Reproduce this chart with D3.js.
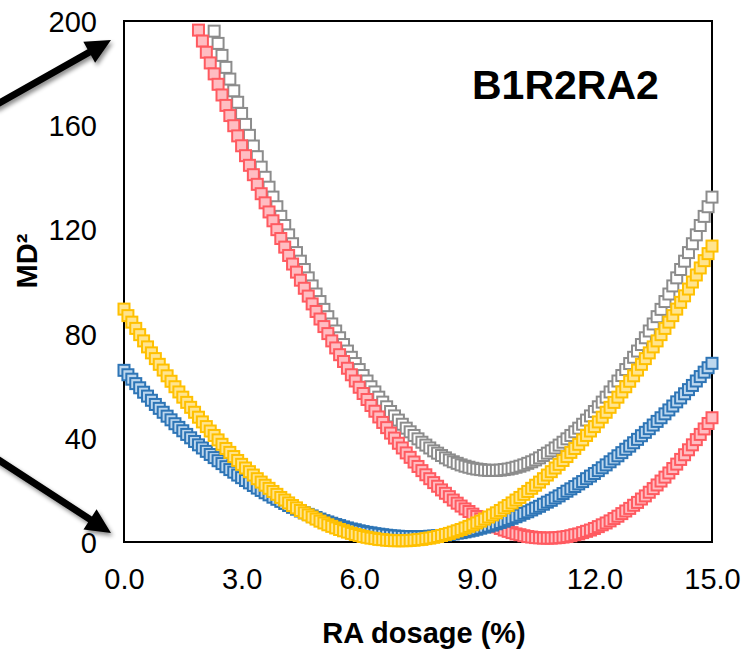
<!DOCTYPE html>
<html>
<head>
<meta charset="utf-8">
<script src="https://cdn.jsdelivr.net/npm/d3@7"></script>
<style>
body { margin: 0; background: #fff; }
svg { display: block; }
text { font-family: "Liberation Sans", Arial, sans-serif; fill: #000; }
</style>
</head>
<body>
<div id="chart"></div>
<script>
var WIDTH = 744
var HEIGHT = 652

// RA dosage (%) steps
var dosage = [
  0.0,0.1,0.2,0.3,0.4,0.5,0.6,0.7,0.8,0.9,
  1.0,1.1,1.2,1.3,1.4,1.5,1.6,1.7,1.8,1.9,
  2.0,2.1,2.2,2.3,2.4,2.5,2.6,2.7,2.8,2.9,
  3.0,3.1,3.2,3.3,3.4,3.5,3.6,3.7,3.8,3.9,
  4.0,4.1,4.2,4.3,4.4,4.5,4.6,4.7,4.8,4.9,
  5.0,5.1,5.2,5.3,5.4,5.5,5.6,5.7,5.8,5.9,
  6.0,6.1,6.2,6.3,6.4,6.5,6.6,6.7,6.8,6.9,
  7.0,7.1,7.2,7.3,7.4,7.5,7.6,7.7,7.8,7.9,
  8.0,8.1,8.2,8.3,8.4,8.5,8.6,8.7,8.8,8.9,
  9.0,9.1,9.2,9.3,9.4,9.5,9.6,9.7,9.8,9.9,
  10.0,10.1,10.2,10.3,10.4,10.5,10.6,10.7,10.8,10.9,
  11.0,11.1,11.2,11.3,11.4,11.5,11.6,11.7,11.8,11.9,
  12.0,12.1,12.2,12.3,12.4,12.5,12.6,12.7,12.8,12.9,
  13.0,13.1,13.2,13.3,13.4,13.5,13.6,13.7,13.8,13.9,
  14.0,14.1,14.2,14.3,14.4,14.5,14.6,14.7,14.8,14.9,
  15.0
]

// MD2 values, one per dosage step
var mdGray = [
  323.1,316.8,310.6,304.5,298.4,292.5,286.5,280.7,274.9,269.2,
  263.5,257.9,252.4,247.0,241.6,236.3,231.0,225.8,220.7,215.7,
  210.7,205.8,200.9,196.1,191.4,186.8,182.2,177.7,173.2,168.8,
  164.5,160.3,156.1,152.0,147.9,143.9,140.0,136.2,132.4,128.7,
  125.0,121.5,117.9,114.5,111.1,107.8,104.6,101.4,98.3,95.2,
  92.3,89.3,86.5,83.7,81.0,78.4,75.8,73.3,70.9,68.5,
  66.2,63.9,61.8,59.6,57.6,55.6,53.7,51.9,50.1,48.4,
  46.8,45.2,43.7,42.3,40.9,39.6,38.3,37.2,36.1,35.0,
  34.1,33.2,32.3,31.5,30.8,30.2,29.6,29.1,28.7,28.3,
  28.0,27.8,27.6,27.5,27.5,27.5,27.6,27.8,28.0,28.3,
  28.7,29.1,29.6,30.2,30.8,31.5,32.3,33.2,34.1,35.0,
  36.1,37.2,38.3,39.6,40.9,42.3,43.7,45.2,46.8,48.4,
  50.1,51.9,53.7,55.6,57.6,59.6,61.8,63.9,66.2,68.5,
  70.9,73.3,75.8,78.4,81.0,83.7,86.5,89.3,92.3,95.2,
  98.3,101.4,104.6,107.8,111.1,114.5,117.9,121.5,125.0,128.7,
  132.4
]
var mdRed = [
  286.0,280.9,275.9,270.8,265.9,260.9,256.0,251.2,246.4,241.6,
  236.9,232.3,227.6,223.1,218.5,214.0,209.6,205.2,200.8,196.5,
  192.3,188.0,183.9,179.7,175.7,171.6,167.6,163.7,159.8,155.9,
  152.1,148.3,144.6,141.0,137.3,133.7,130.2,126.7,123.3,119.9,
  116.5,113.2,110.0,106.7,103.6,100.5,97.4,94.4,91.4,88.5,
  85.6,82.7,80.0,77.2,74.5,71.9,69.3,66.7,64.2,61.8,
  59.4,57.0,54.7,52.4,50.2,48.0,45.9,43.9,41.8,39.9,
  37.9,36.1,34.2,32.5,30.7,29.0,27.4,25.8,24.3,22.8,
  21.4,20.0,18.7,17.4,16.1,14.9,13.8,12.7,11.7,10.7,
  9.8,8.9,8.0,7.2,6.5,5.8,5.2,4.6,4.1,3.6,
  3.1,2.8,2.4,2.1,1.9,1.7,1.6,1.5,1.5,1.5,
  1.6,1.7,1.9,2.1,2.4,2.8,3.1,3.6,4.1,4.6,
  5.2,5.9,6.6,7.3,8.1,9.0,9.9,10.9,11.9,12.9,
  14.1,15.2,16.5,17.7,19.1,20.5,21.9,23.4,24.9,26.5,
  28.2,29.9,31.7,33.5,35.4,37.3,39.3,41.3,43.4,45.5,
  47.7
]
var mdBlue = [
  65.9,64.2,62.5,60.8,59.2,57.5,56.0,54.4,52.8,51.3,
  49.8,48.3,46.9,45.4,44.0,42.7,41.3,40.0,38.6,37.3,
  36.1,34.8,33.6,32.4,31.2,30.1,28.9,27.8,26.8,25.7,
  24.7,23.6,22.7,21.7,20.7,19.8,18.9,18.1,17.2,16.4,
  15.6,14.8,14.0,13.3,12.6,11.9,11.2,10.6,10.0,9.4,
  8.8,8.2,7.7,7.2,6.7,6.3,5.8,5.4,5.0,4.7,
  4.3,4.0,3.7,3.5,3.2,3.0,2.8,2.6,2.4,2.3,
  2.2,2.1,2.1,2.0,2.0,2.0,2.0,2.1,2.2,2.3,
  2.4,2.5,2.7,2.9,3.1,3.4,3.6,3.9,4.2,4.5,
  4.9,5.3,5.7,6.1,6.5,7.0,7.5,8.0,8.6,9.1,
  9.7,10.3,11.0,11.6,12.3,13.0,13.7,14.5,15.3,16.0,
  16.9,17.7,18.6,19.5,20.4,21.3,22.3,23.2,24.3,25.3,
  26.3,27.4,28.5,29.6,30.8,31.9,33.1,34.3,35.6,36.8,
  38.1,39.4,40.8,42.1,43.5,44.9,46.3,47.7,49.2,50.7,
  52.2,53.8,55.3,56.9,58.5,60.1,61.8,63.5,65.2,66.9,
  68.6
]
var mdYellow = [
  89.4,86.9,84.4,82.0,79.6,77.2,74.9,72.6,70.4,68.2,
  66.0,63.8,61.7,59.6,57.6,55.6,53.6,51.7,49.8,47.9,
  46.1,44.3,42.6,40.9,39.2,37.5,35.9,34.4,32.8,31.3,
  29.8,28.4,27.0,25.7,24.3,23.0,21.8,20.6,19.4,18.3,
  17.1,16.1,15.0,14.0,13.1,12.1,11.2,10.4,9.6,8.8,
  8.0,7.3,6.6,6.0,5.4,4.8,4.3,3.8,3.3,2.9,
  2.5,2.1,1.8,1.5,1.3,1.0,0.9,0.7,0.6,0.5,
  0.5,0.5,0.5,0.6,0.7,0.9,1.0,1.3,1.5,1.8,
  2.1,2.5,2.9,3.3,3.8,4.3,4.8,5.4,6.0,6.6,
  7.3,8.0,8.8,9.6,10.4,11.2,12.1,13.1,14.0,15.0,
  16.1,17.1,18.3,19.4,20.6,21.8,23.0,24.3,25.7,27.0,
  28.4,29.8,31.3,32.8,34.4,35.9,37.5,39.2,40.9,42.6,
  44.3,46.1,47.9,49.8,51.7,53.6,55.6,57.6,59.6,61.7,
  63.8,66.0,68.2,70.4,72.6,74.9,77.2,79.6,82.0,84.4,
  86.9,89.4,92.0,94.5,97.1,99.8,102.5,105.2,108.0,110.7,
  113.6
]

var xTicks = [0, 3, 6, 9, 12, 15]
var yTicks = [0, 40, 80, 120, 160, 200]
var chartTitle = "B1R2RA2"
var xTitle = "RA dosage (%)"
var yTitle = "MD\u00b2"

// draw order: gray, red, blue, yellow (yellow ends on top)
var series = [
  {values: mdGray, stroke: "#8c8c8c", fill: "#ffffff"},
  {values: mdRed, stroke: "#ff5a60", fill: "#ffbdc2"},
  {values: mdBlue, stroke: "#2e75b6", fill: "#bdd7ee"},
  {values: mdYellow, stroke: "#ffc000", fill: "#ffe48f"}
]

var plotLeft = 124, plotRight = 712, plotTop = 21, plotBottom = 542
var x = d3.scaleLinear().domain([0, 15]).range([plotLeft, plotRight])
var y = d3.scaleLinear().domain([0, 200]).range([plotBottom, plotTop])

var svg = d3.select("#chart").append("svg")
  .attr("width", WIDTH)
  .attr("height", HEIGHT)

var defs = svg.append("defs")
defs.append("filter").attr("id", "shadow")
  .attr("x", "-20%").attr("y", "-20%").attr("width", "140%").attr("height", "140%")
  .append("feDropShadow")
  .attr("dx", 2).attr("dy", 3).attr("stdDeviation", 2)
  .attr("flood-color", "#000").attr("flood-opacity", 0.45)

// plot frame
svg.append("rect")
  .attr("x", plotLeft).attr("y", plotTop)
  .attr("width", plotRight - plotLeft).attr("height", plotBottom - plotTop)
  .attr("fill", "none").attr("stroke", "#000").attr("stroke-width", 2)

var size = 11
series.forEach(function(s) {
  var pts = dosage.map(function(d, i) { return {x: d, y: s.values[i]} })
    .filter(function(p) { return p.y <= 200 })
  svg.append("g").selectAll("rect")
    .data(pts)
    .enter()
    .append("rect")
    .attr("x", function(p) { return x(p.x) - size / 2 })
    .attr("y", function(p) { return y(p.y) - size / 2 })
    .attr("width", size)
    .attr("height", size)
    .attr("fill", s.fill)
    .attr("stroke", s.stroke)
    .attr("stroke-width", 2)
})

// axes
var yAxis = svg.append("g")
  .attr("transform", "translate(" + plotLeft + ",0)")
  .call(d3.axisLeft(y).tickValues(yTicks).tickSize(0).tickPadding(27).tickFormat(d3.format("d")))
yAxis.select(".domain").remove()
yAxis.selectAll("text").attr("font-size", 29).attr("dy", "0.36em")
  .style("font-family", '"Liberation Sans", Arial, sans-serif').attr("fill", "#000")

var xAxis = svg.append("g")
  .attr("transform", "translate(0," + plotBottom + ")")
  .call(d3.axisBottom(x).tickValues(xTicks).tickSize(0).tickPadding(26).tickFormat(d3.format(".1f")))
xAxis.select(".domain").remove()
xAxis.selectAll("text").attr("font-size", 29)
  .style("font-family", '"Liberation Sans", Arial, sans-serif').attr("fill", "#000")

// titles
svg.append("text")
  .attr("x", 424).attr("y", 643)
  .attr("text-anchor", "middle")
  .attr("font-size", 29).attr("font-weight", "bold")
  .text(xTitle)

svg.append("text")
  .attr("transform", "translate(37,261) rotate(-90)")
  .attr("text-anchor", "middle")
  .attr("font-size", 29).attr("font-weight", "bold")
  .text(yTitle)

svg.append("text")
  .attr("x", 472).attr("y", 99)
  .attr("font-size", 41).attr("font-weight", "bold")
  .text(chartTitle)

// the two pointer arrows outside the plot
function arrow(x1, y1, x2, y2) {
  var dx = x2 - x1, dy = y2 - y1
  var len = Math.sqrt(dx * dx + dy * dy)
  var ux = dx / len, uy = dy / len
  var nx = -uy, ny = ux
  var w = 3.5, hl = 25, hw = 12
  var bx = x2 - ux * hl, by = y2 - uy * hl
  var p = [
    [x1 + nx * w, y1 + ny * w],
    [bx + nx * w, by + ny * w],
    [bx + nx * hw, by + ny * hw],
    [x2, y2],
    [bx - nx * hw, by - ny * hw],
    [bx - nx * w, by - ny * w],
    [x1 - nx * w, y1 - ny * w]
  ]
  svg.append("path")
    .attr("d", d3.line()(p) + "Z")
    .attr("fill", "#000")
    .attr("filter", "url(#shadow)")
}
arrow(-6, 106, 111, 40)
arrow(-6, 457, 111, 533)
</script>
</body>
</html>
